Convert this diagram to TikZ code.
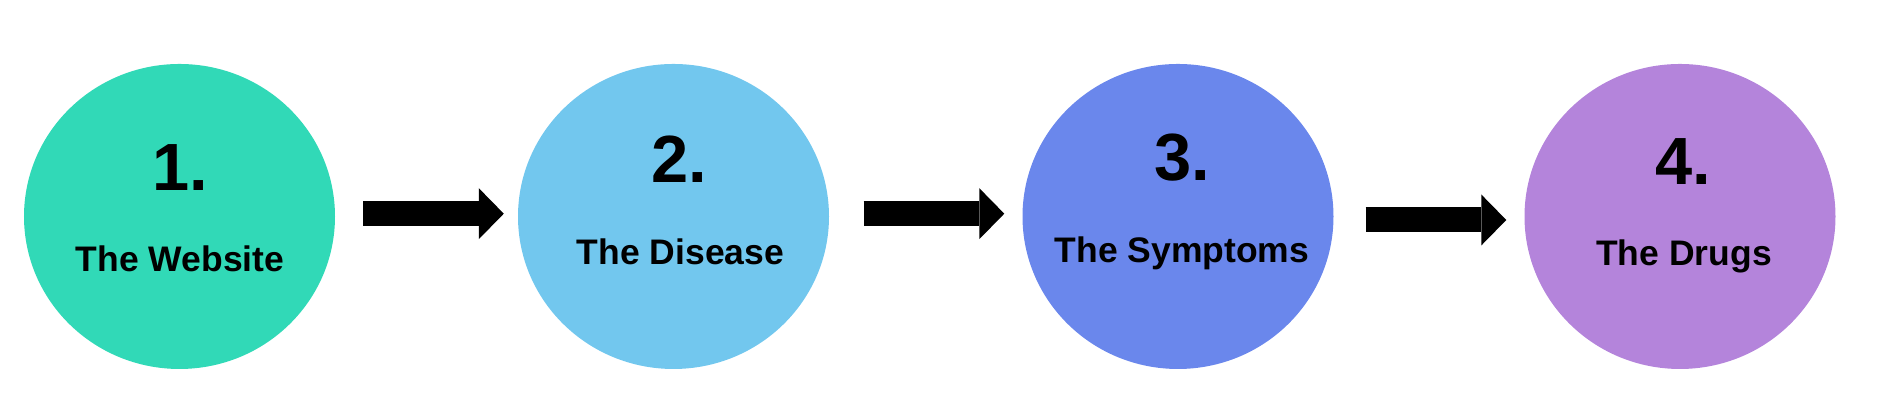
\documentclass[tikz,border=0pt]{standalone}
\usepackage{fontspec}
\setmainfont{Liberation Sans}
\usepackage{tikz}
\usetikzlibrary{positioning,arrows.meta,shapes.geometric}
\definecolor{webgreen}{RGB}{49,217,183}
\definecolor{disblue}{RGB}{114,199,238}
\definecolor{sympblue}{RGB}{106,135,236}
\definecolor{druglilac}{RGB}{180,132,219}
\tikzset{stage/.style={ellipse, draw=none, inner sep=0pt, minimum width=3.11cm, minimum height=3.05cm, fill=#1}}
\tikzset{num/.style={anchor=base, inner sep=0pt, font=\fontsize{19}{19}\selectfont\bfseries}}
\tikzset{lbl/.style={anchor=base, inner sep=0pt, font=\fontsize{10.1}{12}\selectfont\bfseries}}
\tikzset{fatarr/.style={draw, line width=0.25cm, -{Triangle[length=0.25cm, width=0.51cm, line width=0pt]}}}

\begin{document}
\begin{tikzpicture}
	\useasboundingbox (0,0) rectangle (18.81,4.17);

	\node[stage=webgreen] (web) at (1.795, 2.005) {};
	\node[stage=disblue] (dis) at (6.735, 2.005) {};
	\node[stage=sympblue] (symp) at (11.78, 2.005) {};
	\node[stage=druglilac] (drug) at (16.80, 2.005) {};

	% numbers and titles
	\node[num] (n-web) at (1.805, 2.26) {1.};
	\node[lbl] (l-web) at (1.80, 1.453) {The Website};
	\node[num] (n-dis) at (6.79, 2.343) {2.};
	\node[lbl] (l-dis) at (6.805, 1.52) {The Disease};
	\node[num] (n-symp) at (11.82, 2.36) {3.};
	\node[lbl] (l-symp) at (11.82, 1.543) {The Symptoms};
	\node[num] (n-drug) at (16.83, 2.32) {4.};
	\node[lbl] (l-drug) at (16.84, 1.51) {The Drugs};

	\draw[fatarr, shorten <=0.275cm, shorten >=0.135cm]
		([yshift=0.028cm]web.east) -- ([yshift=0.028cm]dis.west);
	\draw[fatarr, shorten <=0.34cm, shorten >=0.175cm]
		([yshift=0.028cm]dis.east) -- ([yshift=0.028cm]symp.west);
	\draw[fatarr, shorten <=0.315cm, shorten >=0.175cm]
		([yshift=-0.035cm]symp.east) -- ([yshift=-0.035cm]drug.west);
\end{tikzpicture}
\end{document}
